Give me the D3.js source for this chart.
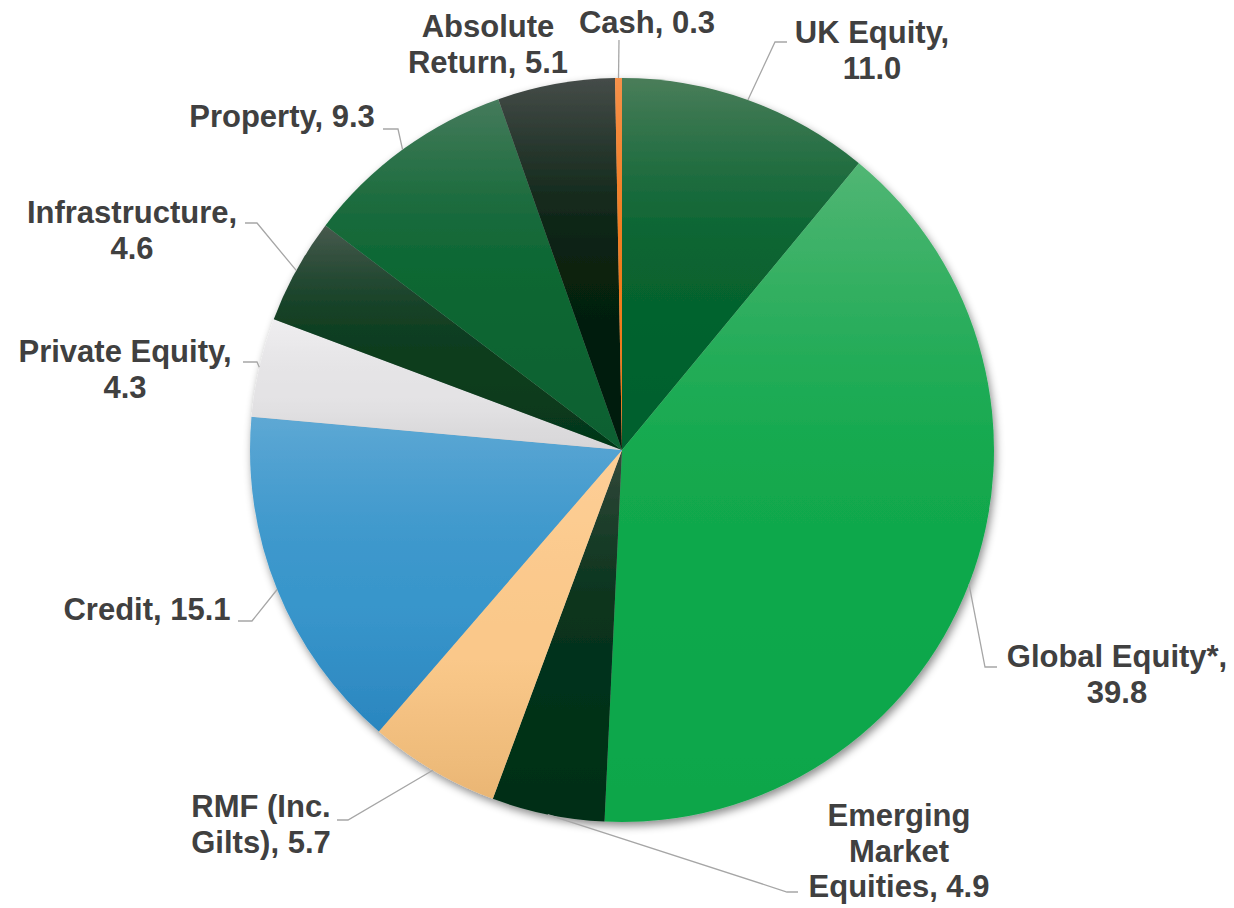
<!DOCTYPE html>
<html>
<head>
<meta charset="utf-8">
<script src="https://cdn.jsdelivr.net/npm/d3@7/dist/d3.min.js"></script>
<style>
  html, body { margin: 0; padding: 0; background: #ffffff; }
  svg { display: block; }
</style>
</head>
<body>
<svg id="chart" width="1234" height="908"></svg>
<script>
// ---------------- data ----------------
const categories = ["UK Equity", "Global Equity*", "Emerging Market Equities", "RMF (Inc. Gilts)",
  "Credit", "Private Equity", "Infrastructure", "Property", "Absolute Return", "Cash"];
const values = [11.0, 39.8, 4.9, 5.7, 15.1, 4.3, 4.6, 9.3, 5.1, 0.3];
// how each label's category text is broken into lines (value appended to the last line)
const labelLines = [
  ["UK Equity,", ""],
  ["Global Equity*,", ""],
  ["Emerging", "Market", "Equities, "],
  ["RMF (Inc.", "Gilts), "],
  ["Credit, "],
  ["Private Equity,", ""],
  ["Infrastructure,", ""],
  ["Property, "],
  ["Absolute", "Return, "],
  ["Cash, "]
];

// ---------------- styles ----------------
// gradient colours per slice: [top, base, bottom]
const sliceColors = [
  ["#4a7d5a", "#06632f", "#05602d"],
  ["#52b674", "#10a84c", "#0ea64a"],
  ["#34493b", "#05321a", "#042e17"],
  ["#fecf97", "#fac88a", "#eab674"],
  ["#5ea8d4", "#3996cb", "#2a86bf"],
  ["#efeef0", "#e4e3e5", "#d6d5d7"],
  ["#485a4e", "#0c3d1f", "#043718"],
  ["#467b5c", "#0b6632", "#096030"],
  ["#454c49", "#06200f", "#021a0c"],
  ["#f6914a", "#f07b1e", "#ee7818"]
];
// label placement: text centre x, first baseline y, leader elbow and end
const labelLayout = [
  { x: 872, y: 43, leader: [[775, 42], [787, 42]] },
  { x: 1117, y: 667, leader: [[985, 667], [997, 667]] },
  { x: 899, y: 826, leader: [[787, 892], [798, 892]] },
  { x: 261, y: 817, leader: [[348, 820], [337, 820]] },
  { x: 147, y: 620, leader: [[252, 621], [238, 621]] },
  { x: 125, y: 362, leader: [[257, 362], [243, 362]] },
  { x: 132, y: 223, leader: [[257, 223], [245, 223]] },
  { x: 282, y: 127, leader: [[398, 129], [383, 129]] },
  { x: 488, y: 37, leader: null },
  { x: 647, y: 33, leader: [[619, 40], [619, 40]] }
];

const cx = 622, cy = 450, radius = 372;
const lineHeight = 35.5;
const fmt = d3.format(".1f");

const svg = d3.select("#chart");
const defs = svg.append("defs");

const shadow = defs.append("filter").attr("id", "shadow")
  .attr("x", "-10%").attr("y", "-10%").attr("width", "120%").attr("height", "120%");
shadow.append("feDropShadow")
  .attr("dx", 2).attr("dy", 4).attr("stdDeviation", 4)
  .attr("flood-color", "#000").attr("flood-opacity", 0.45);

// smooth gradient: eases from top colour into base colour, then drifts to bottom colour
sliceColors.forEach((c, i) => {
  const g = defs.append("linearGradient").attr("id", "grad" + i)
    .attr("x1", 0).attr("y1", 0).attr("x2", 0).attr("y2", 1);
  const upper = d3.interpolateRgb(c[0], c[1]);
  const lower = d3.interpolateRgb(c[1], c[2]);
  for (let k = 0; k <= 20; k++) {
    const t = k / 20;
    let col;
    if (t <= 0.6) col = upper(d3.easeSinOut(t / 0.6));
    else col = lower((t - 0.6) / 0.4);
    g.append("stop").attr("offset", (t * 100) + "%").attr("stop-color", col);
  }
});

const pie = d3.pie().sort(null).value(d => d).startAngle(0).endAngle(2 * Math.PI);
const arcs = pie(values);
const arc = d3.arc().innerRadius(0).outerRadius(radius);

const gPie = svg.append("g").attr("transform", `translate(${cx},${cy})`);
const gSlices = gPie.append("g").attr("filter", "url(#shadow)");
gSlices.selectAll("path").data(arcs).enter().append("path")
  .attr("d", arc)
  .attr("fill", (d, i) => `url(#grad${i})`);

// leader lines
const edgePoint = d => {
  const a = (d.startAngle + d.endAngle) / 2;
  return [cx + radius * Math.sin(a), cy - radius * Math.cos(a)];
};
const gLines = svg.append("g");
arcs.forEach((d, i) => {
  const L = labelLayout[i];
  if (!L.leader) return;
  const pts = [edgePoint(d), ...L.leader];
  gLines.append("path")
    .attr("d", d3.line()(pts))
    .attr("fill", "none")
    .attr("stroke", "#a6a6a6")
    .attr("stroke-width", 1.3);
});

// labels
const gLabels = svg.append("g")
  .attr("font-family", "'Liberation Sans', Arial, sans-serif")
  .attr("font-weight", "bold")
  .attr("font-size", "31px")
  .attr("fill", "#404040")
  .attr("text-anchor", "middle");
arcs.forEach((d, i) => {
  const L = labelLayout[i];
  const lines = labelLines[i].slice();
  lines[lines.length - 1] = lines[lines.length - 1] + fmt(values[i]);
  const t = gLabels.append("text");
  lines.forEach((s, k) => {
    t.append("tspan").attr("x", L.x).attr("y", L.y + k * lineHeight).text(s);
  });
});
</script>
</body>
</html>
